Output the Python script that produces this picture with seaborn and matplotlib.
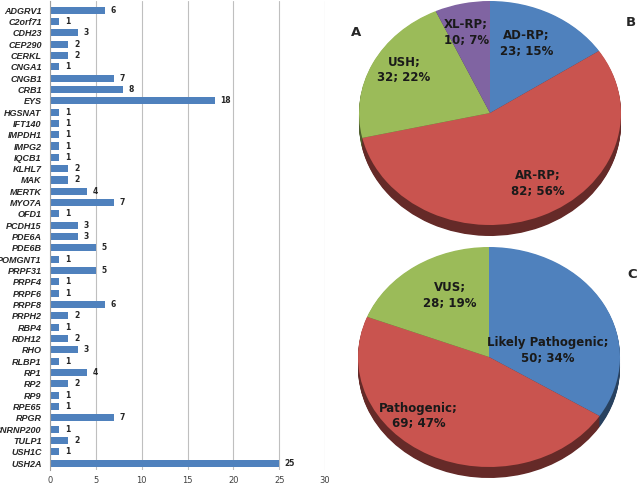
import numpy as np
import matplotlib
matplotlib.use("Agg")
import matplotlib.pyplot as plt
import matplotlib.colors as mcolors
import seaborn as sns

# data
genes = ['ADGRV1', 'C2orf71', 'CDH23', 'CEP290', 'CERKL', 'CNGA1', 'CNGB1', 'CRB1', 'EYS',
         'HGSNAT', 'IFT140', 'IMPDH1', 'IMPG2', 'IQCB1', 'KLHL7', 'MAK', 'MERTK', 'MYO7A',
         'OFD1', 'PCDH15', 'PDE6A', 'PDE6B', 'POMGNT1', 'PRPF31', 'PRPF4', 'PRPF6', 'PRPF8',
         'PRPH2', 'RBP4', 'RDH12', 'RHO', 'RLBP1', 'RP1', 'RP2', 'RP9', 'RPE65', 'RPGR',
         'SNRNP200', 'TULP1', 'USH1C', 'USH2A']
counts = [6, 1, 3, 2, 2, 1, 7, 8, 18, 1, 1, 1, 1, 1, 2, 2, 4, 7, 1, 3, 3, 5, 1, 5, 1, 1, 6,
          2, 1, 2, 3, 1, 4, 2, 1, 1, 7, 1, 2, 1, 25]

inh_labels = ['AD-RP', 'AR-RP', 'USH', 'XL-RP']
inh_counts = [23, 82, 32, 10]
inh_pct = [15, 56, 22, 7]

cls_labels = ['Likely Pathogenic', 'Pathogenic', 'VUS']
cls_counts = [50, 69, 28]
cls_pct = [34, 47, 19]

BLUE = '#4F81BD'
RED = '#C9544F'
GREEN = '#9BBB59'
PURPLE = '#8064A2'

sns.set_style("white")
plt.rcParams['font.family'] = ['DejaVu Sans']

W, H = 644, 484
fig = plt.figure(figsize=(W / 100, H / 100), dpi=100)


def px_axes(x0, y0, x1, y1):
    return fig.add_axes([x0 / W, 1 - y1 / H, (x1 - x0) / W, (y1 - y0) / H])


# ---- bar chart (left) ----
ax = px_axes(50, 1, 325, 470)
sns.barplot(x=counts, y=genes, orient='h', color=BLUE, saturation=1, width=0.62,
            linewidth=0, ax=ax)
ax.set_xlim(0, 30)
ax.set_ylim(len(genes) - 0.4, -0.8)
ax.set_xticks(range(0, 31, 5))
ax.set_xlabel('')
ax.set_ylabel('')
ax.grid(axis='x', color='#BFBFBF', linewidth=0.8)
ax.set_axisbelow(True)
for s in ['top', 'right', 'bottom']:
    ax.spines[s].set_visible(False)
ax.spines['left'].set_color('#A0A0A0')
ax.spines['left'].set_linewidth(0.8)
ax.tick_params(axis='y', length=0, pad=6)
ax.tick_params(axis='x', length=0, pad=4, labelsize=6, labelcolor='#404040')
for lab in ax.get_yticklabels():
    lab.set_fontfamily('Liberation Sans')
    lab.set_fontsize(6.5)
    lab.set_fontweight('bold')
    lab.set_fontstyle('italic')
ax.bar_label(ax.containers[0], padding=4, fontsize=5.5, fontweight='bold')


# ---- 3D-looking pies (right) ----
def pie3d(box, depth, values, colors, texts, label_pos):
    x0, y0, x1, y1 = box
    ry = (y1 - y0 - depth) / 2
    d = depth / ry
    pax = px_axes(x0, y0, x1, y1)
    dark = [tuple(c * 0.5 for c in mcolors.to_rgb(col)) for col in colors]
    n = 14
    for k in range(n, 0, -1):
        pax.pie(values, colors=dark, startangle=90, counterclock=False,
                center=(0, -d * k / n), radius=1,
                wedgeprops=dict(linewidth=0))
    wedges, _ = pax.pie(values, colors=colors, startangle=90, counterclock=False,
                        center=(0, 0), radius=1, wedgeprops=dict(linewidth=0))
    for w, txt, (r, shift) in zip(wedges, texts, label_pos):
        th = np.deg2rad((w.theta1 + w.theta2) / 2 + shift)
        pax.text(r * np.cos(th), r * np.sin(th), txt, ha='center', va='center',
                 fontsize=8.5, fontweight='bold', color='#1A1A1A', linespacing=1.25)
    pax.set_aspect('auto')
    pax.set_xlim(-1, 1)
    pax.set_ylim(-1 - d, 1)
    pax.axis('off')
    return pax


inh_texts = [f'{l};\n{c}; {p}%' for l, c, p in zip(inh_labels, inh_counts, inh_pct)]
pie3d((359, 1, 621, 236), 11, inh_counts, [BLUE, RED, GREEN, PURPLE], inh_texts,
      [(0.68, 4), (0.73, 7), (0.76, -4), (0.74, 2)])

cls_texts = [f'{l};\n{c}; {p}%' for l, c, p in zip(cls_labels, cls_counts, cls_pct)]
pie3d((358, 247, 620, 478), 11, cls_counts, [BLUE, RED, GREEN], cls_texts,
      [(0.45, -21), (0.76, -18), (0.635, -6)])

fig.text(356 / W, 1 - 32 / H, 'A', fontsize=9.5, fontweight='bold', ha='center', va='center')
fig.text(631 / W, 1 - 22 / H, 'B', fontsize=9.5, fontweight='bold', ha='center', va='center')
fig.text(632 / W, 1 - 275 / H, 'C', fontsize=9.5, fontweight='bold', ha='center', va='center')

fig.savefig('out.png', dpi=100)
